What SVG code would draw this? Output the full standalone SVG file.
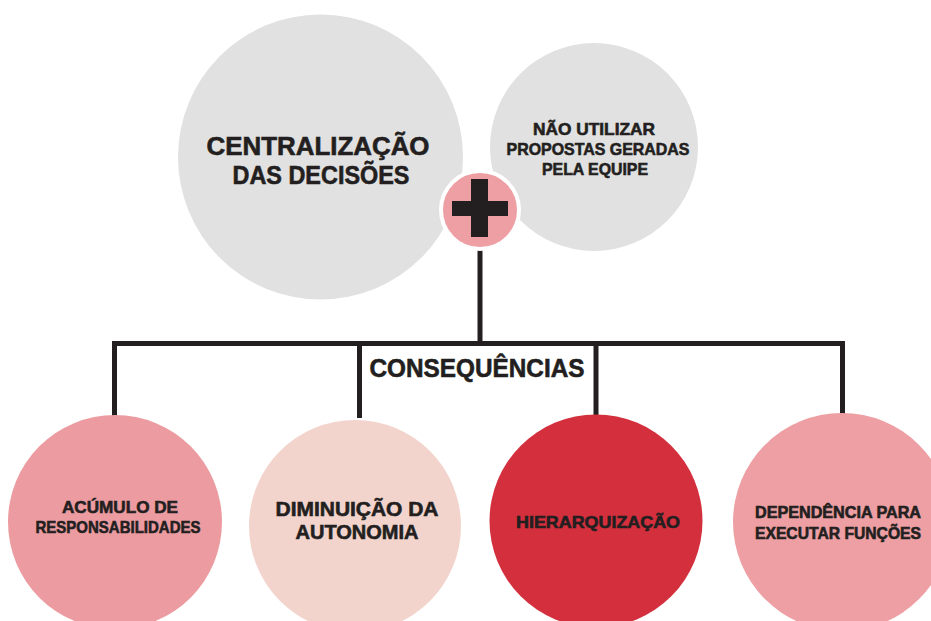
<svg xmlns="http://www.w3.org/2000/svg" width="931" height="621" viewBox="0 0 931 621">
  <style>
    .lbl { font-family: "Liberation Sans", Arial, sans-serif; font-weight: 700; fill: #231f20; stroke: #231f20; stroke-width: 0.6; text-anchor: middle; }
    .con { fill: none; stroke: #231f20; stroke-width: 5; stroke-linejoin: miter; }
    .gray { fill: #e1e1e1; }
  </style>
  <rect width="931" height="621" fill="#ffffff"/>

  <g id="connectors">
    <line class="con" x1="480" y1="245" x2="480" y2="344"/>
    <path class="con" d="M114.5 418 V343.5 H842.5 V418"/>
    <line class="con" x1="359.5" y1="343.5" x2="359.5" y2="418"/>
    <line class="con" x1="596" y1="343.5" x2="596" y2="418"/>
  </g>

  <g id="node-centralizacao">
    <circle class="gray" cx="320.5" cy="157" r="142.5"/>
    <text class="lbl" x="318" y="155" font-size="26" textLength="223" lengthAdjust="spacingAndGlyphs">CENTRALIZAÇÃO</text>
    <text class="lbl" x="321" y="184" font-size="26" textLength="177" lengthAdjust="spacingAndGlyphs">DAS DECISÕES</text>
  </g>

  <g id="node-nao-utilizar">
    <circle class="gray" cx="594" cy="147" r="104"/>
    <text class="lbl" x="594" y="135" font-size="17" textLength="122" lengthAdjust="spacingAndGlyphs">NÃO UTILIZAR</text>
    <text class="lbl" x="598" y="155" font-size="17" textLength="183" lengthAdjust="spacingAndGlyphs">PROPOSTAS GERADAS</text>
    <text class="lbl" x="595" y="175" font-size="17" textLength="106" lengthAdjust="spacingAndGlyphs">PELA EQUIPE</text>
  </g>

  <g id="node-plus">
    <circle cx="480" cy="210" r="39" fill="#ee9fa3" stroke="#ffffff" stroke-width="4"/>
    <rect x="471" y="179" width="17" height="58" fill="#231f20"/>
    <rect x="452" y="201" width="56" height="15" fill="#231f20"/>
  </g>

  <g id="node-consequencias">
    <text class="lbl" x="477" y="377" font-size="26" textLength="215" lengthAdjust="spacingAndGlyphs">CONSEQUÊNCIAS</text>
  </g>

  <g id="node-acumulo">
    <circle cx="115" cy="522" r="107" fill="#ec9ba0"/>
    <text class="lbl" x="120" y="513" font-size="17" textLength="116" lengthAdjust="spacingAndGlyphs">ACÚMULO DE</text>
    <text class="lbl" x="118" y="533" font-size="17" textLength="165" lengthAdjust="spacingAndGlyphs">RESPONSABILIDADES</text>
  </g>

  <g id="node-diminuicao">
    <circle cx="355" cy="526" r="106" fill="#f2d4cd"/>
    <text class="lbl" x="357" y="516" font-size="20" textLength="163" lengthAdjust="spacingAndGlyphs">DIMINUIÇÃO DA</text>
    <text class="lbl" x="357" y="539" font-size="20" textLength="123" lengthAdjust="spacingAndGlyphs">AUTONOMIA</text>
  </g>

  <g id="node-hierarquizacao">
    <circle cx="596" cy="521" r="106.5" fill="#d42f3d"/>
    <text class="lbl" x="598" y="528" font-size="17" textLength="164" lengthAdjust="spacingAndGlyphs">HIERARQUIZAÇÃO</text>
  </g>

  <g id="node-dependencia">
    <circle cx="842" cy="522" r="109" fill="#ee9fa3"/>
    <text class="lbl" x="838" y="518" font-size="16" textLength="166" lengthAdjust="spacingAndGlyphs">DEPENDÊNCIA PARA</text>
    <text class="lbl" x="838" y="539" font-size="16" textLength="166" lengthAdjust="spacingAndGlyphs">EXECUTAR FUNÇÕES</text>
  </g>
</svg>
